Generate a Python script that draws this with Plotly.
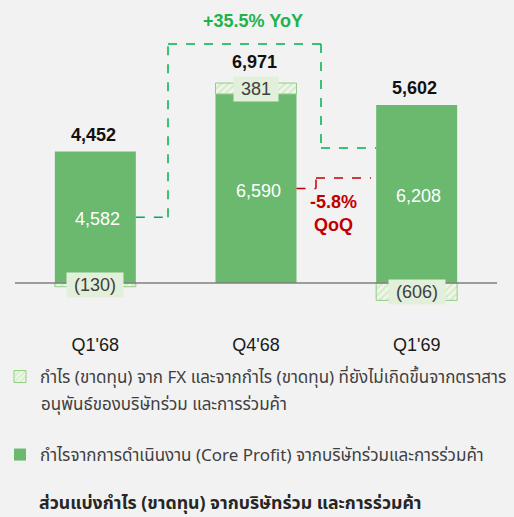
import plotly.graph_objects as go

categories = ["Q1'68", "Q4'68", "Q1'69"]
core_profit = [4582, 6590, 6208]
fx_gain = [-130, 381, -606]
totals = [4452, 6971, 5602]
yoy_text = "+35.5% YoY"
qoq_text = "-5.8%<br>QoQ"
fx_name_line1 = "กำไร (ขาดทุน) จาก FX และจากกำไร (ขาดทุน) ที่ยังไม่เกิดขึ้นจากตราสาร"
fx_name_line2 = "อนุพันธ์ของบริษัทร่วม และการร่วมค้า"
core_name = "กำไรจากการดำเนินงาน (Core Profit) จากบริษัทร่วมและการร่วมค้า"
title_text = "ส่วนแบ่งกำไร (ขาดทุน) จากบริษัทร่วม และการร่วมค้า"

W, H = 514, 517
BG = "#f2f2f2"
GREEN = "#6ab96e"
LIGHT = "#e2efda"
FONT = "Noto Sans Thai, Tahoma, Liberation Sans, Arial, sans-serif"
NUMFONT = "Liberation Sans, Arial, sans-serif"

ML, MR, MT, MB = 15, 17, 0, 197
plot_h = H - MT - MB
zero_px = 283
k = (zero_px - 94) / core_profit[1]
y_top = zero_px / k
y_bot = -(plot_h - zero_px) / k

def px_to_y(py):
    return (zero_px - py) / k

def py_to_paper(py):
    return (plot_h - py) / plot_h

fig = go.Figure()
fig.add_trace(go.Bar(
    x=categories, y=core_profit, name=core_name,
    marker=dict(color=GREEN, line=dict(width=0)),
    legend="legend2", hoverinfo="skip",
))
fig.add_trace(go.Bar(
    x=categories, y=fx_gain, name=fx_name_line1,
    marker=dict(color="#eef6e8", line=dict(color="#8fcf85", width=1),
                pattern=dict(shape="/", fgcolor="#b5dca4", bgcolor="#eef6e8", size=5, solidity=0.35)),
    legend="legend", hoverinfo="skip",
))

ann = []
shapes = []
half = 0.252
shapes.append(dict(type="line", xref="paper", yref="y", x0=0, x1=1, y0=0, y1=0,
                   line=dict(color="#7f7f7f", width=1.5)))
for i, c in enumerate(categories):
    pos_top = core_profit[i] + max(fx_gain[i], 0)
    extra = 4 if fx_gain[i] > 0 else 0
    ann.append(dict(x=i, y=pos_top, xref="x", yref="y", text=f"<b>{totals[i]:,}</b>",
                    showarrow=False, yanchor="middle", yshift=17 + extra, xshift=-2,
                    font=dict(size=18, color="#111111", family=NUMFONT)))
    ann.append(dict(x=i, y=core_profit[i] / 2, xref="x", yref="y", text=f"{core_profit[i]:,}",
                    showarrow=False, yanchor="middle", yshift=-2, xshift=2,
                    font=dict(size=18, color="white", family=NUMFONT)))
    fxv = fx_gain[i]
    fx_base = core_profit[i] if fxv > 0 else 0
    lbl = f"{fxv:,}" if fxv > 0 else f"({abs(fxv):,})"
    ann.append(dict(x=i, y=fx_base + fxv / 2, xref="x", yref="y", text=f"&nbsp;{lbl}&nbsp;",
                    showarrow=False, yanchor="middle", bgcolor=LIGHT, borderpad=2,
                    font=dict(size=18, color="#404040", family=NUMFONT)))

def xc(px):
    return (px - 95.33) / 160.67

yoy_pts = [(0 + half, core_profit[0] / 2), (xc(168), core_profit[0] / 2), (xc(168), px_to_y(44)),
           (xc(321), px_to_y(44)), (xc(321), px_to_y(148)), (2 - half, px_to_y(148))]
for (x0, y0), (x1, y1) in zip(yoy_pts[:-1], yoy_pts[1:]):
    shapes.append(dict(type="line", xref="x", yref="y", x0=x0, y0=y0, x1=x1, y1=y1,
                       line=dict(color="#00b050", width=1.5, dash="dash")))
qoq_pts = [(1 + half, core_profit[1] / 2), (xc(316), core_profit[1] / 2), (xc(316), px_to_y(178)),
           (xc(371), px_to_y(178))]
for (x0, y0), (x1, y1) in zip(qoq_pts[:-1], qoq_pts[1:]):
    shapes.append(dict(type="line", xref="x", yref="y", x0=x0, y0=y0, x1=x1, y1=y1,
                       line=dict(color="#c00000", width=1.5, dash="dash")))

ann.append(dict(x=xc(253), y=px_to_y(21), xref="x", yref="y", text=f"<b>{yoy_text}</b>",
                showarrow=False, font=dict(size=18, color="#22b24c", family=NUMFONT)))
ann.append(dict(x=xc(333), y=px_to_y(213), xref="x", yref="y", text=f"<b>{qoq_text}</b>",
                showarrow=False, font=dict(size=18, color="#c00000", family=NUMFONT)))
# legend second line
ann.append(dict(x=(39 - ML) / (W - ML - MR), y=py_to_paper(405), xref="paper", yref="paper",
                text=fx_name_line2, showarrow=False, xanchor="left", yanchor="middle",
                font=dict(size=17, color="#404040", family=FONT)))
# bottom title
ann.append(dict(x=(37 - ML) / (W - ML - MR), y=py_to_paper(503), xref="paper", yref="paper",
                text=f"<b>{title_text}</b>", showarrow=False, xanchor="left", yanchor="middle",
                font=dict(size=17.7, color="#262626", family=FONT)))

fig.update_layout(
    width=W, height=H,
    margin=dict(l=ML, r=MR, t=MT, b=MB, pad=0, autoexpand=False),
    paper_bgcolor=BG, plot_bgcolor=BG,
    barmode="relative", bargap=0.496,
    showlegend=True,
    legend=dict(xref="container", yref="container", x=0, y=1 - 359 / H,
                xanchor="left", yanchor="top",
                bgcolor="rgba(0,0,0,0)", font=dict(size=17, color="#404040", family=FONT),
                itemwidth=30),
    legend2=dict(xref="container", yref="container", x=0, y=1 - 437 / H,
                 xanchor="left", yanchor="top",
                 bgcolor="rgba(0,0,0,0)", font=dict(size=17, color="#404040", family=FONT),
                 itemwidth=30),
    xaxis=dict(showgrid=False, zeroline=False, showline=False, ticks="",
               tickfont=dict(size=18, color="#1a1a1a", family=NUMFONT), ticklabelstandoff=12),
    yaxis=dict(range=[y_bot, y_top], showgrid=False, zeroline=False, showticklabels=False,
               showline=False, ticks=""),
    annotations=ann, shapes=shapes,
)
fig.write_html(
    "out.html",
    config={"displayModeBar": False},
    post_script="document.body.style.margin='0';document.body.style.background='#f2f2f2';",
)
